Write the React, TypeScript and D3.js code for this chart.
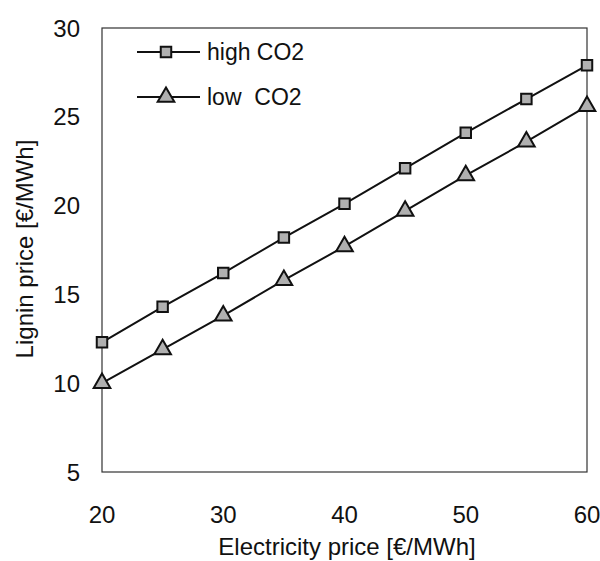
import React, { useEffect, useRef } from 'react';
import * as d3 from 'd3';

// electricity price [€/MWh]
const electricity = [20, 25, 30, 35, 40, 45, 50, 55, 60];
// lignin price [€/MWh]
const highCO2 = [12.3, 14.3, 16.2, 18.2, 20.1, 22.1, 24.1, 26.0, 27.9];
const lowCO2 = [10.0, 11.9, 13.8, 15.8, 17.7, 19.7, 21.7, 23.6, 25.6];
const xTicks = [20, 30, 40, 50, 60];
const yTicks = [5, 10, 15, 20, 25, 30];
const seriesNames = ['high CO2', 'low  CO2'];

function App() {
    const ref = useRef<SVGSVGElement>(null);

    const width = 600;
    const height = 561;
    const margin = { top: 28, right: 13, bottom: 89, left: 102 };
    const font = '"Liberation Sans", Arial, Helvetica, sans-serif';

    useEffect(() => {
        const svg = d3.select(ref.current);
        svg.selectAll('*').remove();

        const x = d3
            .scaleLinear()
            .domain([20, 60])
            .range([margin.left, width - margin.right]);
        const y = d3
            .scaleLinear()
            .domain([5, 30])
            .range([height - margin.bottom, margin.top]);

        // plot frame
        svg.append('rect')
            .attr('x', x(20))
            .attr('y', y(30))
            .attr('width', x(60) - x(20))
            .attr('height', y(5) - y(30))
            .style('fill', 'none')
            .style('stroke', '#333')
            .style('stroke-width', 1.2);

        // tick labels
        svg.selectAll('.xtick')
            .data(xTicks)
            .enter()
            .append('text')
            .attr('x', (d) => x(d))
            .attr('y', height - margin.bottom + 51)
            .attr('text-anchor', 'middle')
            .style('font-family', font)
            .style('font-size', '24px')
            .style('fill', '#111')
            .text((d) => d);

        svg.selectAll('.ytick')
            .data(yTicks)
            .enter()
            .append('text')
            .attr('x', 80)
            .attr('y', (d) => y(d))
            .attr('dy', '0.36em')
            .attr('text-anchor', 'end')
            .style('font-family', font)
            .style('font-size', '24px')
            .style('fill', '#111')
            .text((d) => d);

        // axis titles
        svg.append('text')
            .attr('x', 347)
            .attr('y', 555)
            .attr('text-anchor', 'middle')
            .style('font-family', font)
            .style('font-size', '24px')
            .style('fill', '#111')
            .text('Electricity price [€/MWh]');

        svg.append('text')
            .attr('transform', 'translate(33, 249) rotate(-90)')
            .attr('text-anchor', 'middle')
            .style('font-family', font)
            .style('font-size', '24px')
            .style('fill', '#111')
            .text('Lignin price [€/MWh]');

        const line = d3
            .line<number>()
            .x((_, i) => x(electricity[i]))
            .y((d) => y(d));

        const square = d3.symbol().type(d3.symbolSquare).size(110);
        const triangle = d3.symbol().type(d3.symbolTriangle).size(120);

        const series = [
            { name: seriesNames[0], values: highCO2, shape: square },
            { name: seriesNames[1], values: lowCO2, shape: triangle },
        ];

        series.forEach((s) => {
            svg.append('path')
                .attr('d', line(s.values))
                .style('fill', 'none')
                .style('stroke', '#111')
                .style('stroke-width', 2);

            svg.selectAll(null)
                .data(s.values)
                .enter()
                .append('path')
                .attr('d', s.shape)
                .attr('transform', (d, i) => `translate(${x(electricity[i])}, ${y(d)})`)
                .style('fill', '#b0b0b0')
                .style('stroke', '#111')
                .style('stroke-width', 2);
        });

        // legend
        const legend = svg.append('g');
        series.forEach((s, i) => {
            const ly = 52 + i * 45;
            legend.append('line')
                .attr('x1', 137)
                .attr('x2', 200)
                .attr('y1', ly)
                .attr('y2', ly)
                .style('stroke', '#111')
                .style('stroke-width', 2);
            legend.append('path')
                .attr('d', s.shape)
                .attr('transform', `translate(166, ${ly})`)
                .style('fill', '#b0b0b0')
                .style('stroke', '#111')
                .style('stroke-width', 2);
            legend.append('text')
                .attr('x', 207)
                .attr('y', ly)
                .attr('dy', '0.36em')
                .style('font-family', font)
                .style('font-size', '23px')
                .style('fill', '#111')
                .style('white-space', 'pre')
                .text(s.name);
        });
    }, []);

    return (
        <svg
            ref={ref}
            width={width}
            height={height}
            style={{ position: 'absolute', left: 0, top: 0, background: '#fff' }}
        />
    );
}

export default App;
